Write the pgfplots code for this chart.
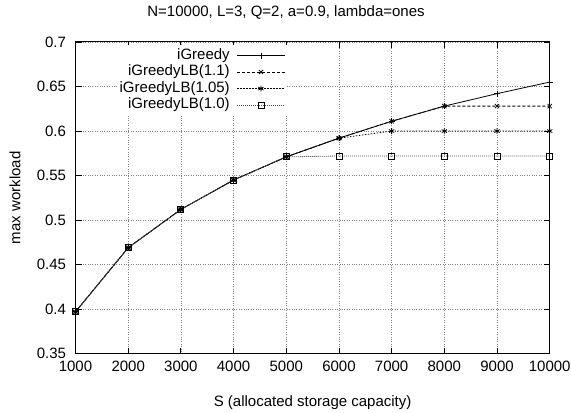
\documentclass[border=0pt]{standalone}
\usepackage{fontspec}
\setmainfont{Liberation Sans}
\usepackage{pgfplots}
\pgfplotsset{compat=1.18}
\begin{document}
\begin{tikzpicture}
\begin{axis}[
  scale only axis,
  width=474.2pt, height=311.7pt,
  xmin=1000, xmax=10000, ymin=0.35, ymax=0.7,
  xtick={1000,2000,...,10000},
  ytick={0.35,0.4,0.45,0.5,0.55,0.6,0.65,0.7},
  scaled x ticks=false, scaled y ticks=false,
  xticklabel style={/pgf/number format/1000 sep={}, yshift=-4pt},
  yticklabel style={/pgf/number format/fixed, xshift=-6pt},
  /pgf/number format/assume math mode=true,
  font=\fontsize{15}{17}\selectfont,
  tick align=inside,
  major tick length=6pt,
  tick style={black, line width=0.8pt},
  axis line style={line width=1pt},
  grid=major,
  major grid style={gray, dotted, line width=0.7pt},
  title={N=10000, L=3, Q=2, a=0.9, lambda=ones},
  title style={at={(axis description cs:0.444,1.061)}, anchor=base},
  xlabel={S (allocated storage capacity)},
  xlabel style={at={(axis description cs:0.5,-0.170)}, anchor=base},
  ylabel={max workload},
  ylabel style={at={(axis description cs:-0.116,0.5)}, anchor=base, rotate=0},
  legend plot pos=right,
  legend cell align=right,
  legend image code/.code={\draw[mark repeat=2,mark phase=2,#1] plot coordinates {(0pt,0pt) (23.8pt,0pt) (47.6pt,0pt)};},
  legend style={at={(0.4467,0.990)}, anchor=north east, draw=none, fill=white,
    inner sep=2pt, column sep=6pt, row sep=0pt,
    nodes={inner sep=1pt, text height=11pt, text depth=3.5pt},
    font=\fontsize{15}{17}\selectfont},
]
\addplot[black, line width=0.8pt, mark=+, mark size=3pt, mark options={solid}]
 coordinates {(1000,0.397)(2000,0.469)(3000,0.512)(4000,0.545)(5000,0.571)(6000,0.592)(7000,0.611)(8000,0.628)(9000,0.642)(10000,0.655)};
\addlegendentry{iGreedy}
\addplot[black, line width=0.8pt, dash pattern=on 3pt off 2pt, mark=x, mark size=3pt, mark options={solid}]
 coordinates {(1000,0.397)(2000,0.469)(3000,0.512)(4000,0.545)(5000,0.571)(6000,0.592)(7000,0.611)(8000,0.628)(9000,0.628)(10000,0.628)};
\addlegendentry{iGreedyLB(1.1)}
\addplot[black, line width=0.8pt, dash pattern=on 1.5pt off 1.5pt, mark=asterisk, mark size=3pt, mark options={solid}]
 coordinates {(1000,0.397)(2000,0.469)(3000,0.512)(4000,0.545)(5000,0.571)(6000,0.592)(7000,0.600)(8000,0.600)(9000,0.600)(10000,0.600)};
\addlegendentry{iGreedyLB(1.05)}
\addplot[black!70, line width=0.8pt, dash pattern=on 1pt off 1pt, mark=square, mark size=3pt, mark options={solid, black}]
 coordinates {(1000,0.397)(2000,0.469)(3000,0.512)(4000,0.545)(5000,0.571)(6000,0.572)(7000,0.572)(8000,0.572)(9000,0.572)(10000,0.572)};
\addlegendentry{iGreedyLB(1.0)}
\path (rel axis cs:0,0) coordinate (sw) (rel axis cs:1,1) coordinate (ne);
\end{axis}
\pgfresetboundingbox
\path ([shift={(-75.5pt,-58.3pt)}]sw) rectangle ([shift={(21.3pt,42pt)}]ne);
\end{tikzpicture}
\end{document}
